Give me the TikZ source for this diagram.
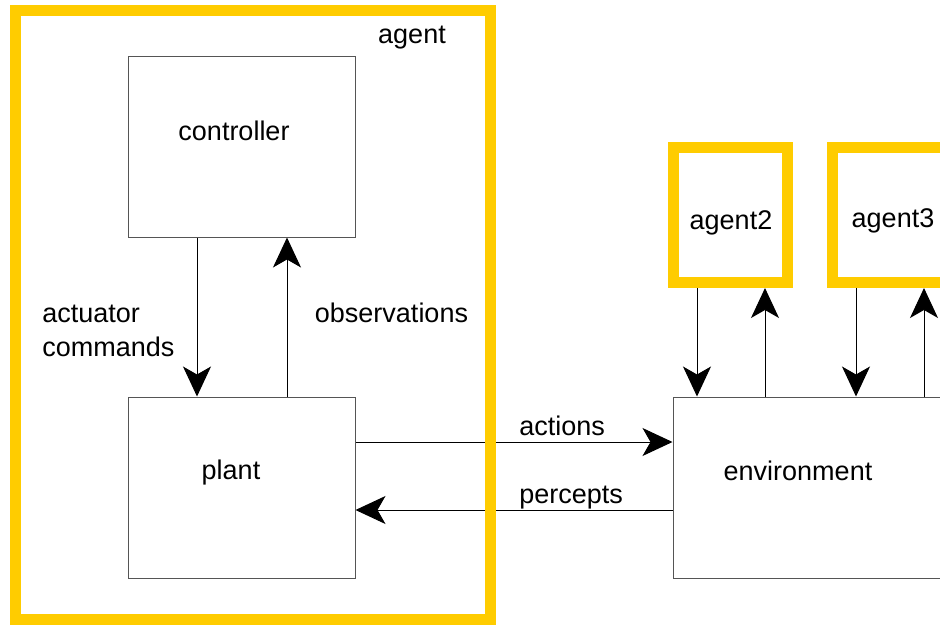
\documentclass[tikz,border=0pt]{standalone}
\usepackage{fontspec}
\setmainfont{Liberation Sans}
\usetikzlibrary{arrows.meta,backgrounds}
\definecolor{agentyellow}{RGB}{255,204,0}
\definecolor{boxgray}{RGB}{85,85,85}
\begin{document}
\begin{tikzpicture}[x=0.75pt,y=-0.75pt,
  box/.style={draw=boxgray, line width=0.75pt, rectangle, inner sep=0pt},
  ctlbox/.style={box, minimum width=170.25pt, minimum height=135.75pt},
  yframe/.style={draw=agentyellow, line width=8.25pt, rectangle, inner sep=0pt},
  smallagent/.style={yframe, minimum width=85.5pt, minimum height=101.25pt},
  lbl/.style={anchor=base, inner sep=0pt, font=\fontsize{20.25}{25.5}\selectfont},
  lblw/.style={lbl, anchor=base west, align=left},
  arr/.style={-{Stealth[length=22.5pt,width=21pt,inset=6pt]}, line width=0.75pt, black}]
\useasboundingbox (0,0) rectangle (940,628);
\clip (0,0) rectangle (940,628);

% boxes
\node[ctlbox] (controller) at (241.5,146.5) {};
\node[ctlbox] (plant) at (241.5,487.5) {};
\node[box, minimum width=225pt, minimum height=135.75pt] (env) at (823,487.5) {};
\node[yframe, minimum width=356.6pt, minimum height=457.1pt] (agent) at (253.25,315.25) {};
\node[smallagent] (agent2) at (730.5,215) {};
\node[smallagent] (agent3) at (889.5,215) {};

% labels
\node[lbl] (tagent) at (412,43) {agent};
\node[lbl] (tcontroller) at (234,140) {controller};
\node[lbl] (tplant) at (231,479) {plant};
\node[lbl] (tenv) at (798,480) {environment};
\node[lbl] (tagent2) at (731,229) {agent2};
\node[lbl] (tagent3) at (893,227) {agent3};
\node[lblw] (tact) at (42,322) {actuator};
\node[lblw] (tcmd) at (42,356) {commands};
\node[lbl] (tobs) at (391.5,322) {observations};
\node[lblw] (tactions) at (519,435) {actions};
\node[lblw] (tpercepts) at (519,503) {percepts};

% helper coordinates
\coordinate (xdown) at (197,0);
\coordinate (xup) at (287,0);
\coordinate (x2d) at (697,0);
\coordinate (x2u) at (765,0);
\coordinate (x3d) at (856,0);
\coordinate (x3u) at (924,0);
\coordinate (yact) at (0,442);
\coordinate (yper) at (0,510);

\begin{pgfonlayer}{background}
\draw[arr] (xdown |- controller.south) -- (xdown |- plant.north);
\draw[arr] (xup |- plant.north) -- (xup |- controller.south);
\draw[arr] (plant.east |- yact) -- (env.west |- yact);
\draw[arr] (env.west |- yper) -- (plant.east |- yper);
\draw[arr] (x2d |- agent2.south) -- (x2d |- env.north);
\draw[arr] (x2u |- env.north) -- (x2u |- agent2.south);
\draw[arr] (x3d |- agent3.south) -- (x3d |- env.north);
\draw[arr] (x3u |- env.north) -- (x3u |- agent3.south);
\end{pgfonlayer}
\end{tikzpicture}
\end{document}
